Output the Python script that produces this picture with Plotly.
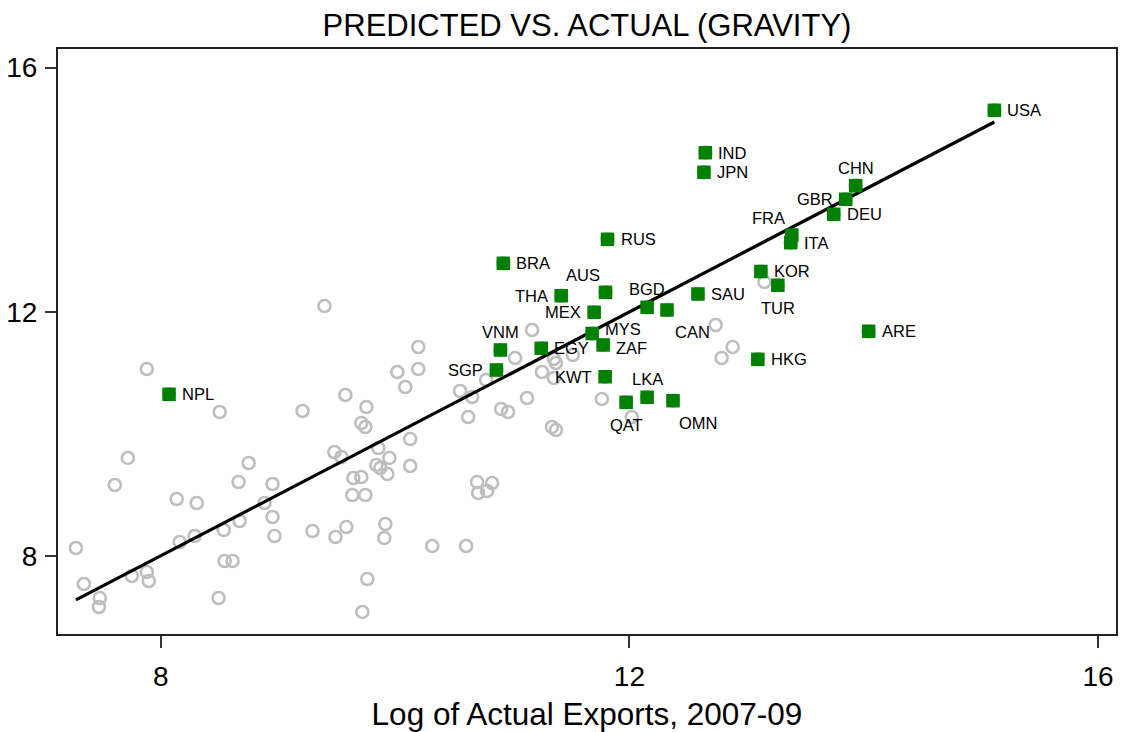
import plotly.graph_objects as go

# ---- data ----
# countries without labels (grey circles): log actual exports (x), log predicted (y)
other_x = [7.276, 7.344, 7.480, 7.472, 7.608, 7.719, 7.881, 7.753, 7.881, 7.898,
           8.136, 8.162, 8.307, 8.290, 8.503, 8.494, 8.545, 8.613, 8.537, 8.673,
           8.664, 8.750, 8.886, 8.954, 8.954, 8.971, 9.210, 9.295, 9.397, 9.482,
           9.542, 9.491, 9.584, 9.576, 9.644, 9.712, 9.635, 9.746, 9.712, 9.746,
           9.755, 9.721, 9.763, 9.857, 9.951, 9.840, 9.874, 9.934, 9.917, 9.908,
           10.019, 10.087, 10.129, 10.129, 10.198, 10.198, 10.317, 10.606, 10.555, 10.658,
           10.624, 10.700, 10.709, 10.785, 10.828, 10.777, 10.905, 10.964, 11.024, 11.126,
           11.169, 11.254, 11.356, 11.356, 11.373, 11.339, 11.373, 11.518, 11.765, 12.020,
           12.736, 12.881, 12.787, 13.153]
other_y = [8.131, 7.541, 7.312, 7.164, 9.163, 9.606, 11.064, 7.672, 7.738, 7.590,
           8.934, 8.229, 8.868, 8.328, 10.359, 7.312, 7.918, 7.918, 8.426, 8.573,
           9.212, 9.524, 8.868, 9.180, 8.639, 8.328, 10.375, 8.410, 12.096, 9.704,
           9.622, 8.311, 8.475, 10.638, 9.278, 9.294, 8.999, 8.999, 10.179, 10.113,
           10.441, 7.083, 7.623, 9.769, 9.606, 9.491, 9.442, 9.343, 8.524, 8.295,
           11.014, 10.769, 9.917, 9.474, 11.424, 11.064, 8.164, 8.164, 10.703, 10.605,
           10.277, 9.212, 9.032, 9.065, 9.196, 10.883, 10.408, 10.359, 11.244, 10.588,
           11.702, 11.014, 10.916, 11.227, 11.162, 10.113, 10.064, 11.293, 10.572, 10.277,
           11.784, 11.424, 11.244, 12.489]

# labelled countries (green squares)
codes = ["USA", "IND", "JPN", "CHN", "GBR", "DEU", "FRA", "ITA", "RUS", "BRA",
         "AUS", "THA", "MEX", "BGD", "CAN", "SAU", "KOR", "TUR", "MYS", "ZAF",
         "VNM", "EGY", "SGP", "KWT", "LKA", "QAT", "OMN", "HKG", "ARE", "NPL"]
lab_x = [15.115, 12.648, 12.636, 13.931, 13.846, 13.744, 13.386, 13.377, 11.813, 10.924,
         11.796, 11.418, 11.699, 12.151, 12.321, 12.585, 13.122, 13.267, 11.682, 11.776,
         10.899, 11.248, 10.865, 11.793, 12.151, 11.972, 12.372, 13.096, 14.042, 8.071]
lab_y = [15.302, 14.607, 14.286, 14.067, 13.844, 13.598, 13.259, 13.133, 13.188, 12.795,
         12.320, 12.264, 11.993, 12.074, 12.030, 12.292, 12.661, 12.435, 11.645, 11.457,
         11.375, 11.403, 11.047, 10.937, 10.600, 10.518, 10.544, 11.222, 11.681, 10.649]

# fitted line end points
fit_x = [7.276, 15.115]
fit_y = [7.280, 15.110]

x_ticks = [8, 12, 16]
y_ticks = [8, 12, 16]

title_text = "PREDICTED VS. ACTUAL (GRAVITY)"
x_title = "Log of Actual Exports, 2007-09"

# ---- style ----
label_pos = {
    "USA": "right", "IND": "right", "JPN": "right", "CHN": "top",
    "GBR": "left", "DEU": "right", "FRA": "topleft", "ITA": "right",
    "RUS": "right", "BRA": "right", "AUS": "topleft", "THA": "left",
    "MEX": "left", "BGD": "top", "CAN": "bottomright", "SAU": "right",
    "KOR": "right", "TUR": "bottom", "MYS": "rightup", "ZAF": "rightdown",
    "VNM": "top", "EGY": "right", "SGP": "left", "KWT": "left",
    "LKA": "top", "QAT": "bottom", "OMN": "bottomright", "HKG": "right",
    "ARE": "right", "NPL": "right",
}
# (xanchor, xshift, yshift) for each label placement
placements = {
    "right": ("left", 11, 0),
    "rightup": ("left", 11, 5),
    "rightdown": ("left", 11, -3),
    "left": ("right", -11, 0),
    "top": ("center", 0, 18),
    "bottom": ("center", 0, -23),
    "topleft": ("center", -23, 17),
    "bottomright": ("center", 25, -22),
}
FONT = "Liberation Sans, Arial, Helvetica, sans-serif"
GREY = "rgb(190,190,190)"
GREEN = "rgb(0,128,0)"

fig = go.Figure()

# grey circles for all countries
fig.add_trace(go.Scatter(
    x=other_x + lab_x, y=other_y + lab_y, mode="markers",
    marker=dict(symbol="circle-open", size=12, color=GREY, line=dict(width=2.6, color=GREY)),
    hoverinfo="skip", showlegend=False))

# fitted line
fig.add_trace(go.Scatter(
    x=fit_x, y=fit_y, mode="lines",
    line=dict(color="black", width=3.2), hoverinfo="skip", showlegend=False))

# green labelled squares
fig.add_trace(go.Scatter(
    x=lab_x, y=lab_y, mode="markers",
    marker=dict(symbol="square", size=13.5, color=GREEN, line=dict(width=0)),
    showlegend=False))

annotations = []
for c, xv, yv in zip(codes, lab_x, lab_y):
    xa, xs, ys = placements[label_pos[c]]
    annotations.append(dict(
        x=xv, y=yv, xref="x", yref="y", text=c, showarrow=False,
        xanchor=xa, yanchor="middle", xshift=xs, yshift=ys,
        font=dict(family=FONT, size=16.5, color="black")))

axis_common = dict(
    showgrid=False, zeroline=False, showline=True, mirror=True,
    linecolor="#222222", linewidth=2,
    ticks="outside", tickcolor="#333333", tickwidth=1.5,
    tickfont=dict(family=FONT, size=28, color="black"),
)

fig.update_layout(
    width=1122, height=732,
    margin=dict(l=58, r=4, t=49, b=98),
    paper_bgcolor="white", plot_bgcolor="white",
    annotations=annotations,
    title=dict(text=title_text, x=0.5, xref="paper", y=1 - 25 / 732, yref="container",
               xanchor="center", yanchor="middle",
               font=dict(family=FONT, size=31, color="black")),
    xaxis=dict(range=[7.123, 16.153], tickvals=x_ticks, ticklen=12,
               ticklabelstandoff=4,
               title=dict(text=x_title, font=dict(family=FONT, size=31.5, color="black"), standoff=12),
               **axis_common),
    yaxis=dict(range=[6.722, 16.306], tickvals=y_ticks, ticklen=11,
               ticklabelstandoff=2, **axis_common),
)

fig.write_html("out.html")
